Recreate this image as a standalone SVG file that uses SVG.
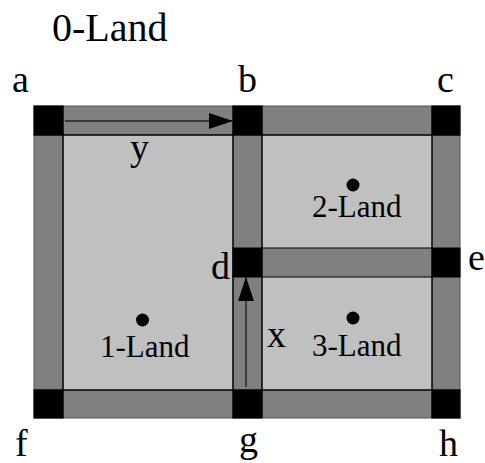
<svg xmlns="http://www.w3.org/2000/svg" width="485" height="463" viewBox="0 0 485 463">
<style>
.bg{fill:#fff}
.bar{fill:#808080;stroke:#555;stroke-width:1}
.land{fill:#c0c0c0;stroke:#000;stroke-width:1}
.sq{fill:#000;stroke:#000;stroke-width:1}
text{font-family:'Liberation Serif','Times New Roman',serif;fill:#000}
.lbl{font-size:38px}
.title{font-size:40px}
.ltxt{font-size:31px}
.dot{fill:#000}
.arr{stroke:#222;stroke-width:1.4;fill:none;marker-end:url(#ah)}
</style>
<defs>
<marker id="ah" markerUnits="userSpaceOnUse" markerWidth="24" markerHeight="16" refX="24" refY="8" orient="auto">
<path d="M0,0 L24,8 L0,16 z" fill="#000"/>
</marker>
</defs>
<rect class="bg" x="0" y="0" width="485" height="463"/>
<g id="land0"><text class="title" x="52" y="41">0-Land</text></g>
<g id="roads">
<rect class="bar" x="34" y="106" width="426" height="312"/>
</g>
<g id="land1"><rect class="land" x="63" y="135" width="170" height="255"/><circle class="dot" cx="142.5" cy="320" r="6.5"/><text class="ltxt" x="100" y="357">1-Land</text></g>
<g id="land2"><rect class="land" x="262" y="135" width="170" height="113"/><circle class="dot" cx="353" cy="185" r="6.5"/><text class="ltxt" x="312" y="217">2-Land</text></g>
<g id="land3"><rect class="land" x="262" y="277" width="170" height="113"/><circle class="dot" cx="353" cy="318" r="6.5"/><text class="ltxt" x="312" y="356">3-Land</text></g>
<g id="bars">
<line x1="63" y1="135" x2="432" y2="135" stroke="#000"/>
<line x1="63" y1="390" x2="432" y2="390" stroke="#000"/>
<line x1="233" y1="106" x2="233" y2="418" stroke="#000"/>
<line x1="262" y1="106" x2="262" y2="418" stroke="#000"/>
<line x1="63" y1="106" x2="63" y2="418" stroke="#000"/>
<line x1="432" y1="106" x2="432" y2="418" stroke="#000"/>
<line x1="34" y1="135" x2="63" y2="135" stroke="#000"/>
<line x1="34" y1="390" x2="63" y2="390" stroke="#000"/>
<line x1="432" y1="135" x2="460" y2="135" stroke="#000"/>
<line x1="432" y1="390" x2="460" y2="390" stroke="#000"/>
</g>
<g id="a"><rect class="sq" x="34" y="106" width="29" height="29"/><text class="lbl" x="12" y="92">a</text></g>
<g id="b"><rect class="sq" x="233" y="106" width="29" height="29"/><text class="lbl" x="238" y="92">b</text></g>
<g id="c"><rect class="sq" x="432" y="106" width="28" height="29"/><text class="lbl" x="437" y="92">c</text></g>
<g id="d"><rect class="sq" x="233" y="248" width="29" height="29"/><text class="lbl" x="211" y="279">d</text></g>
<g id="e"><rect class="sq" x="432" y="248" width="28" height="29"/><text class="lbl" x="468" y="270">e</text></g>
<g id="f"><rect class="sq" x="34" y="390" width="29" height="28"/><text class="lbl" x="15" y="456">f</text></g>
<g id="g"><rect class="sq" x="233" y="390" width="29" height="28"/><text class="lbl" x="239" y="452">g</text></g>
<g id="h"><rect class="sq" x="432" y="390" width="28" height="28"/><text class="lbl" x="439" y="456">h</text></g>
<g id="connectors">
<line class="arr" x1="65" y1="121" x2="233" y2="121"/>
<line class="arr" x1="246" y1="387" x2="246" y2="277"/>
<text class="lbl" x="130" y="160">y</text>
<text class="lbl" x="267" y="347">x</text>
</g>
</svg>
